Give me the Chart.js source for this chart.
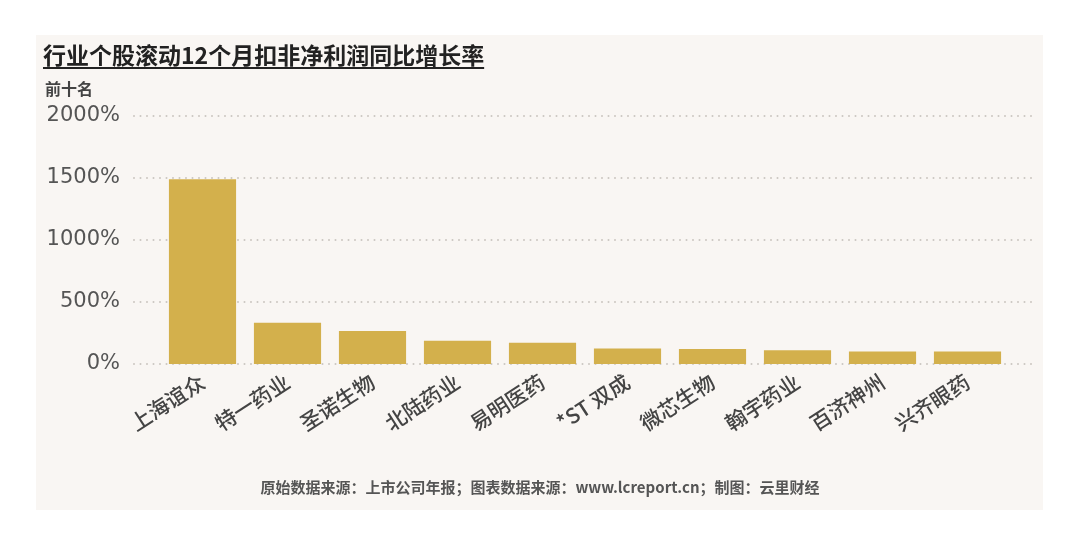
<!DOCTYPE html>
<html>
<head>
<meta charset="utf-8">
<script src="https://cdn.jsdelivr.net/npm/chart.js@4"></script>
<style>
  html, body { margin: 0; padding: 0; background: #ffffff; }
  body { width: 1080px; height: 545px; position: relative; overflow: hidden; }
  .panel { position: absolute; left: 36px; top: 35px; width: 1007px; height: 475px; background: #f9f6f3; }
  .title { position: absolute; left: 43px; top: 37px; font: bold 23px "Noto Sans CJK SC", sans-serif; color: #222; text-decoration: underline; text-underline-offset: 3px; text-decoration-thickness: 2px; z-index: 2; }
  .sub { position: absolute; left: 45px; top: 76px; font: bold 16px "Noto Sans CJK SC", sans-serif; color: #444; z-index: 2; }
  .foot { position: absolute; left: 0; width: 1080px; top: 476px; text-align: center; font: bold 15px "Noto Sans CJK SC", sans-serif; color: #555; z-index: 2; }
  canvas { position: absolute; left: 0; top: 0; z-index: 1; }
</style>
</head>
<body>
<div class="panel"></div>
<div class="title">行业个股滚动12个月扣非净利润同比增长率</div>
<div class="sub">前十名</div>
<div class="foot">原始数据来源：上市公司年报；图表数据来源：www.lcreport.cn；制图：云里财经</div>
<canvas id="growthChart" width="1080" height="545"></canvas>
<script>
// data (%)
const companies = ['上海谊众', '特一药业', '圣诺生物', '北陆药业', '易明医药', '*ST 双成', '微芯生物', '翰宇药业', '百济神州', '兴齐眼药'];
const growth = [1490, 333, 266, 188, 172, 126, 121, 110, 101, 100];
const yTicks = [0, 500, 1000, 1500, 2000];

// dotted grid lines, running a bit past the plot area like the original
const dottedGrid = {
    id: 'dottedGrid',
    beforeDatasetsDraw(chart) {
        const y = chart.scales.y;
        const c = chart.ctx;
        c.save();
        c.strokeStyle = '#cbc6c1';
        c.lineWidth = 2;
        c.lineCap = 'round';
        c.setLineDash([0, 6.5]);
        yTicks.forEach(v => {
            const py = Math.round(y.getPixelForValue(v));
            c.beginPath();
            c.moveTo(134, py);
            c.lineTo(1036, py);
            c.stroke();
        });
        c.restore();
    }
};

const ctx = document.getElementById('growthChart').getContext('2d');
const growthChart = new Chart(ctx, {
    type: 'bar',
    data: {
        labels: companies,
        datasets: [{
            data: growth,
            backgroundColor: '#d3b04c',
            barPercentage: 0.79,
            categoryPercentage: 1.0
        }]
    },
    options: {
        responsive: false,
        animation: false,
        layout: { padding: { top: 116, right: 70, left: 0, bottom: 0 } },
        plugins: {
            legend: { display: false },
            tooltip: { enabled: false }
        },
        scales: {
            x: {
                grid: { display: false, drawTicks: false },
                border: { display: false },
                afterFit: s => { s.height = 181; },
                ticks: {
                    minRotation: 33,
                    maxRotation: 33,
                    padding: 5,
                    color: '#444',
                    font: { family: '"Noto Sans CJK SC"', size: 21, weight: '500' }
                }
            },
            y: {
                min: 0,
                max: 2000,
                grid: { display: false, drawTicks: false },
                border: { display: false },
                afterFit: s => { s.width = 160; },
                afterBuildTicks: s => { s.ticks = yTicks.map(v => ({ value: v })); },
                ticks: {
                    padding: 40,
                    color: '#555',
                    font: { family: '"DejaVu Sans"', size: 21 },
                    callback: v => v + '%'
                }
            }
        }
    },
    plugins: [dottedGrid]
});
</script>
</body>
</html>
